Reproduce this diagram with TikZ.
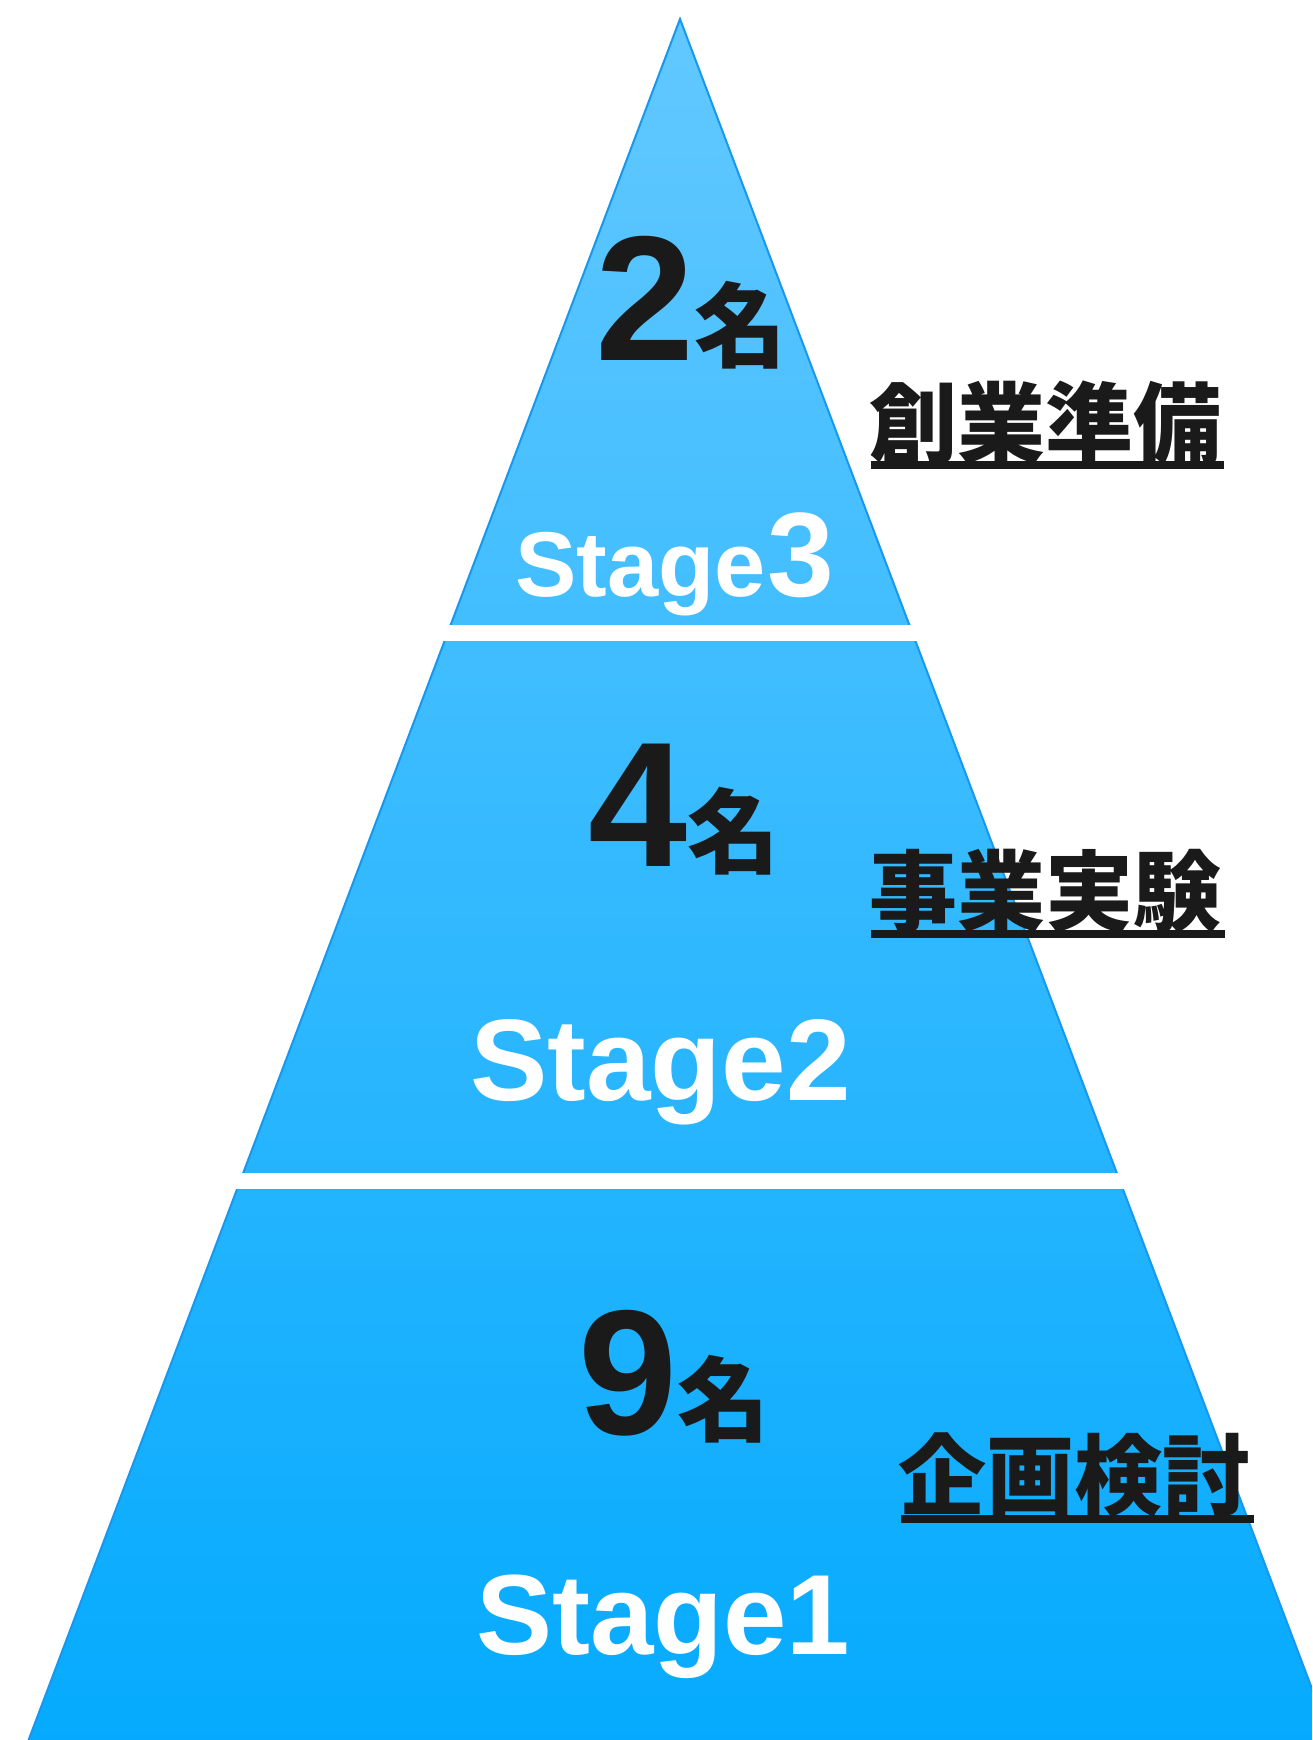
\documentclass[tikz,border=0pt]{standalone}
\usepackage{fontspec}
\setmainfont{Liberation Sans}
\newfontfamily\cjk{Noto Sans CJK JP}
\definecolor{topblue}{RGB}{98,200,255}
\definecolor{botblue}{RGB}{4,170,254}
\definecolor{edgeblue}{RGB}{22,152,238}
\definecolor{ink}{RGB}{26,26,26}
\tikzset{
  num/.style={font=\bfseries, text=ink, inner sep=0pt, anchor=base west},
  stg/.style={font=\bfseries, text=white, inner sep=0pt, anchor=base west},
  lbl/.style={font=\cjk\bfseries\fontsize{44}{44}\selectfont, text=ink, inner sep=0pt, anchor=base west},
  uline/.style={draw=ink, line width=4pt}
}
\begin{document}
\begin{tikzpicture}[x=0.5pt,y=-0.5pt]
\useasboundingbox (0,0) rectangle (1312,1740);
\begin{scope}
  \clip (0,0) rectangle (1312,1740);
  \path[top color=topblue, bottom color=botblue, draw=edgeblue, line width=1pt, line join=miter]
    (680,19) -- (1339,1760) -- (21,1760) -- cycle;
\end{scope}
% white separating bands
\fill[white] (0,625) rectangle (1312,641);
\fill[white] (0,1173) rectangle (1312,1189);
% counts
\node[num] (c3) at (595,360) {{\fontsize{89}{89}\selectfont 2}{\cjk\bfseries\fontsize{46}{46}\selectfont 名}};
\node[num] (c2) at (588,866) {{\fontsize{89}{89}\selectfont 4}{\cjk\bfseries\fontsize{46}{46}\selectfont 名}};
\node[num] (c1) at (578,1434) {{\fontsize{89}{89}\selectfont 9}{\cjk\bfseries\fontsize{46}{46}\selectfont 名}};
% stage names
\node[stg] (s3) at (515,596) {{\fontsize{46}{46}\selectfont Stage}\kern1pt{\fontsize{60}{60}\selectfont 3}};
\node[stg] (s2) at (470,1100) {\fontsize{58}{58}\selectfont Stage2};
\node[stg] (s1) at (476,1654) {\fontsize{57}{57}\selectfont Stage1};
% labels
\node[lbl] (l3) at (869,456) {創業準備};
\node[lbl] (l2) at (869,924) {事業実験};
\node[lbl] (l1) at (898,1508) {企画検討};
\draw[uline] ([shift={(2,9)}]l3.base west) -- ([shift={(2,9)}]l3.base east);
\draw[uline] ([shift={(2,10)}]l2.base west) -- ([shift={(3,10)}]l2.base east);
\draw[uline] ([shift={(3,11)}]l1.base west) -- ([shift={(3,11)}]l1.base east);
\end{tikzpicture}
\end{document}
